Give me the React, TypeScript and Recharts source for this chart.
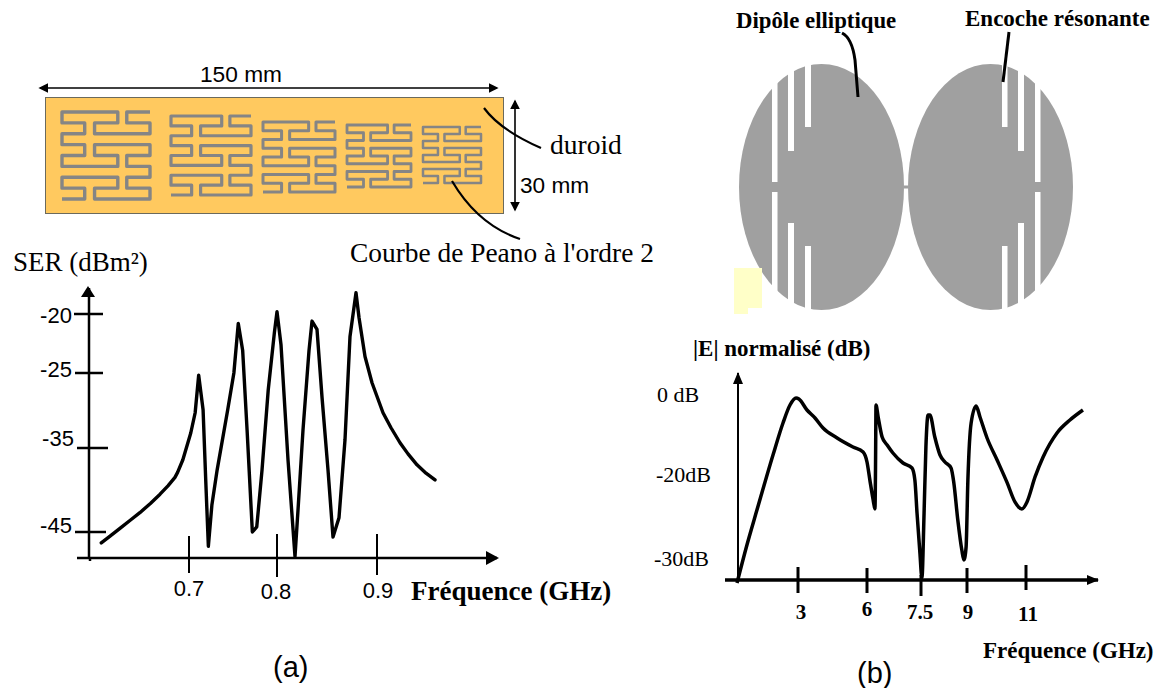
import React from 'react';
import { LineChart, Line, XAxis, YAxis } from 'recharts';

// panel (a): SER against frequency
const serFreq = [0.6, 0.61, 0.622, 0.633, 0.644, 0.656, 0.667, 0.676, 0.684, 0.687, 0.693, 0.702, 0.707, 0.711, 0.716, 0.719, 0.722, 0.726, 0.732, 0.744, 0.751, 0.756, 0.761, 0.766, 0.772, 0.777, 0.783, 0.79, 0.797, 0.8, 0.804, 0.811, 0.818, 0.821, 0.826, 0.832, 0.835, 0.84, 0.845, 0.851, 0.856, 0.862, 0.868, 0.873, 0.879, 0.882, 0.888, 0.895, 0.906, 0.914, 0.923, 0.931, 0.94, 0.949, 0.958];
const serValues = [-46.3, -45.5, -44.5, -43.6, -42.7, -41.6, -40.5, -39.5, -38.5, -37.9, -36.4, -33.0, -30.3, -25.3, -29.9, -38.8, -46.7, -41.8, -37.6, -29.9, -25, -20.8, -23.1, -32.6, -45, -44.4, -37.6, -27.3, -21.6, -19.8, -22.6, -36.4, -47.9, -42.4, -32.6, -23.1, -20.6, -21.3, -28.2, -37.6, -45.6, -43.3, -33.9, -21.9, -18.2, -20.3, -23.6, -26.3, -30.3, -32.3, -34.3, -35.7, -37.0, -38.0, -38.8];
const serFreqTicks = [0.7, 0.8, 0.9];
const serTicks = [-45, -35, -25, -20];

// panel (b): normalised field against frequency
const fieldFreq = [-0.05, 0.45, 0.95, 1.75, 2.25, 2.6, 2.9, 3.04, 3.39, 3.74, 4.09, 4.7, 5.39, 5.83, 6.0, 6.08, 6.17, 6.22, 6.236, 6.242, 6.25, 6.31, 6.42, 6.56, 6.72, 7.0, 7.25, 7.33, 7.39, 7.47, 7.53, 7.6, 7.66, 7.73, 7.79, 7.95, 8.12, 8.28, 8.48, 8.57, 8.7, 8.83, 8.9, 8.97, 9.03, 9.14, 9.31, 9.44, 9.68, 10.02, 10.36, 10.63, 10.86, 11.03, 11.31, 11.58, 12.05, 12.49, 12.93];
const fieldValues = [-32.7, -28.2, -24.1, -15, -7, -2.5, -0.75, -1, -3.75, -5.75, -8.25, -10.75, -13, -14.25, -16.75, -20.6, -22.9, -24, -18.75, -11.25, -2.5, -5.5, -10.5, -12.5, -14.5, -17, -18.25, -20.6, -24.5, -29.2, -32.1, -24.5, -13, -5, -5, -10.5, -15, -16.75, -18.25, -20.9, -25.3, -28.8, -30, -28.5, -20.6, -7, -2.75, -5.5, -10.75, -16.25, -20.9, -23.2, -24, -23.2, -20.2, -15.5, -9.5, -6.25, -3.75];
const fieldFreqTicks = [3, 6, 7.5, 9, 11];
const fieldTicks = [-30, -20, 0];

const serData = serFreq.map((f, i) => ({ f, v: serValues[i] }));
const fieldData = fieldFreq.map((f, i) => ({ f, v: fieldValues[i] }));

const SERIF = '"Liberation Serif", serif';
const SANS = '"Liberation Sans", sans-serif';

// the drawn axes are not evenly spaced, so each scale goes through its tick positions
const knotScale = (knots: number[][]) => {
  const s: any = (v: number) => {
    let i = 0;
    while (i < knots.length - 2 && v > knots[i + 1][0]) i++;
    const [a, pa] = knots[i];
    const [b, pb] = knots[i + 1];
    return pa + ((v - a) * (pb - pa)) / (b - a);
  };
  s.domain = (d?: number[]) => (d ? s : [knots[0][0], knots[knots.length - 1][0]]);
  s.range = (r?: number[]) => (r ? s : [knots[0][1], knots[knots.length - 1][1]]);
  s.copy = () => knotScale(knots);
  s.ticks = () => knots.map((k) => k[0]);
  s.tickFormat = () => (v: number) => String(v);
  return s;
};

const serXScale = knotScale([[0.586, 89], [0.7, 189], [0.8, 277], [1.02, 497]]);
const serYScale = knotScale([[-48.1, 558], [-45, 532], [-35, 448], [-25, 373], [-20, 314], [-17.8, 288]]);
const fieldXScale = knotScale([[0, 738], [3, 798], [6, 867], [7.5, 921], [9, 967], [11, 1026], [13.44, 1098]]);
const fieldYScale = knotScale([[-32.35, 580], [-30, 560], [-20, 475], [0, 395], [5.5, 373]]);

// hand-drawn ticks wander a bit: [line start, line end, label x, label y]
const serYStyle: Record<number, number[]> = { [-20]: [74, 103, 56, 323], [-25]: [75, 103, 56, 377], [-35]: [77, 108, 58, 446], [-45]: [75, 106, 56, 533] };
const serXStyle: Record<number, number[]> = { 0.7: [536, 573, 189, 596], 0.8: [534, 577, 276, 599], 0.9: [534, 575, 378, 598] };
const fieldXStyle: Record<number, number[]> = { 3: [567, 593, 801, 619], 6: [568, 593, 867, 616], 7.5: [575, 596, 920, 619], 9: [568, 593, 968, 619], 11: [565, 590, 1028, 621] };
const fieldYStyle: Record<number, number[]> = { [-30]: [654, 566], [-20]: [656, 482], [0]: [657, 402] };
const fieldYLabel: Record<number, string> = { [-30]: '-30dB', [-20]: '-20dB', [0]: '0 dB' };

const SerYTick = ({ y, payload }: any) => {
  const [a, b, tx, ty] = serYStyle[payload.value];
  return (
    <g>
      <line x1={a} x2={b} y1={y} y2={y} stroke="#000" strokeWidth={2.5} />
      <text x={tx} y={ty} textAnchor="middle" fontFamily={SANS} fontSize={22}>{payload.value}</text>
    </g>
  );
};

const SerXTick = ({ x, payload }: any) => {
  const [a, b, tx, ty] = serXStyle[payload.value];
  return (
    <g>
      <line x1={x} x2={x} y1={a} y2={b} stroke="#000" strokeWidth={2} />
      <text x={tx} y={ty} textAnchor="middle" fontFamily={SANS} fontSize={22}>{payload.value}</text>
    </g>
  );
};

const FieldXTick = ({ x, payload }: any) => {
  const [a, b, tx, ty] = fieldXStyle[payload.value];
  return (
    <g>
      <line x1={x} x2={x} y1={a} y2={b} stroke="#000" strokeWidth={3} />
      <text x={tx} y={ty} textAnchor="middle" fontFamily={SERIF} fontWeight="bold" fontSize={21}>{payload.value}</text>
    </g>
  );
};

const FieldYTick = ({ payload }: any) => {
  const [tx, ty] = fieldYStyle[payload.value];
  return <text x={tx} y={ty} fontFamily={SERIF} fontSize={22}>{fieldYLabel[payload.value]}</text>;
};

// one order-2 Peano curve on a 5x8 grid
const peanoCols = [0, 0.258, 0.37, 0.634, 0.736, 1];
const peanoPath = [
  [5, 0], [4, 0], [4, 1], [5, 1], [5, 2], [2, 2], [2, 1], [3, 1], [3, 0], [0, 0], [0, 1], [1, 1], [1, 2], [0, 2], [0, 3], [1, 3], [1, 4], [0, 4], [0, 5], [3, 5], [3, 4], [2, 4], [2, 3], [5, 3], [5, 4], [4, 4], [4, 5], [5, 5], [5, 6], [4, 6], [4, 7], [5, 7], [5, 8], [2, 8], [2, 7], [3, 7], [3, 6], [0, 6], [0, 7], [1, 7], [1, 8], [0, 8],
];
const peanoBoxes = [
  [62, 112, 88, 87, 3.4],
  [171, 116, 80, 79, 3.2],
  [263, 122, 72, 70, 3],
  [347, 125, 64, 62, 2.8],
  [423, 127, 58, 56, 2.5],
];

const Peano = ({ box }: { box: number[] }) => {
  const [x, y, w, h, sw] = box;
  const pts = peanoPath.map(([c, r]) => `${x + peanoCols[c] * w},${y + (r / 8) * h}`).join(' ');
  return <polyline points={pts} fill="none" stroke="#858585" strokeWidth={sw} strokeLinejoin="round" />;
};

const ellipses = [
  { cx: 821.5, slots: [[772, 5.5, 182, 192], [788, 6, 151, 223], [805, 6, 127, 246]] },
  { cx: 990.5, slots: [[1002, 5.5, 127, 246], [1018, 6, 151, 223], [1035, 5.5, 182, 192]] },
];

const Diagrams = () => (
  <svg width={1154} height={688} style={{ position: 'absolute', left: 0, top: 0 }}>
    <defs>
      <marker id="head" markerWidth="6" markerHeight="6" refX="5" refY="3" orient="auto-start-reverse">
        <path d="M0,0 L6,3 L0,6 Z" fill="#000" />
      </marker>
    </defs>
    {/* substrate */}
    <rect x={45.5} y={97.5} width={458} height={116} fill="#FFC95F" stroke="#6b6a5c" strokeWidth={1} />
    {peanoBoxes.map((b, i) => <Peano key={i} box={b} />)}
    <line x1={40} x2={497} y1={88} y2={88} stroke="#000" strokeWidth={1.6} markerStart="url(#head)" markerEnd="url(#head)" />
    <line x1={515} x2={515} y1={101} y2={210} stroke="#000" strokeWidth={1.6} markerStart="url(#head)" markerEnd="url(#head)" />
    <path d="M484,108 Q500,130 541,148" fill="none" stroke="#000" strokeWidth={2.2} />
    <path d="M452,181 Q478,225 520,239" fill="none" stroke="#000" strokeWidth={2.2} />
    <text x={200} y={82} fontFamily={SANS} fontSize={22.7}>150 mm</text>
    <text x={520} y={193} fontFamily={SANS} fontSize={22.6}>30 mm</text>
    <text x={550} y={154} fontFamily={SERIF} fontSize={27.5}>duroid</text>
    <text x={350} y={262} fontFamily={SERIF} fontSize={27.4}>Courbe de Peano à l'ordre 2</text>
    <text x={13} y={271} fontFamily={SERIF} fontSize={27}>SER (dBm²)</text>

    {/* dipole */}
    {ellipses.map((e) => (
      <g key={e.cx}>
        <ellipse cx={e.cx} cy={187} rx={82.5} ry={123} fill="#A0A0A0" />
        {e.slots.map(([x, w, y1, y2]) => (
          <g key={x}>
            <rect x={x} y={60} width={w} height={y1 - 60} fill="#fff" />
            <rect x={x} y={y2} width={w} height={315 - y2} fill="#fff" />
          </g>
        ))}
      </g>
    ))}
    <rect x={904} y={185.5} width={4} height={3} fill="#A0A0A0" />
    <path d="M734,268 H762 V308 H748 V314 H734 Z" fill="#FFFFC8" />
    <path d="M842,33 Q852,38 855,60 L858,97" fill="none" stroke="#000" strokeWidth={3} />
    <line x1={1009} y1={32} x2={1003} y2={82} stroke="#000" strokeWidth={3} />
    <text x={736} y={28} fontFamily={SERIF} fontWeight="bold" fontSize={22.8}>Dipôle elliptique</text>
    <text x={965} y={26} fontFamily={SERIF} fontWeight="bold" fontSize={23}>Encoche résonante</text>
    <text x={693} y={356} fontFamily={SERIF} fontWeight="bold" fontSize={23}>|E| normalisé (dB)</text>

    {/* axis ends the chart area does not reach */}
    <line x1={77} x2={90} y1={558} y2={558} stroke="#000" strokeWidth={2.5} />
    <line x1={90} x2={90} y1={558} y2={561} stroke="#000" strokeWidth={2.5} />
    <path d="M81,297 L88,286 L95,297 Z" fill="#000" />
    <path d="M486,551 L499,558 L486,565 Z" fill="#000" />
    <line x1={725} x2={738} y1={580} y2={580} stroke="#000" strokeWidth={3.5} />
    <path d="M733,384 L738,372 L743,384 Z" fill="#000" />
    <path d="M1087,575 L1099,580 L1087,585 Z" fill="#000" />

    <text x={411} y={600} fontFamily={SERIF} fontWeight="bold" fontSize={27}>Fréquence (GHz)</text>
    <text x={983} y={658} fontFamily={SERIF} fontWeight="bold" fontSize={23}>Fréquence (GHz)</text>
    <text x={273} y={677} fontFamily={SANS} fontSize={29}>(a)</text>
    <text x={857} y={683} fontFamily={SANS} fontSize={29}>(b)</text>
  </svg>
);

const App: React.FC = () => (
  <div style={{ position: 'absolute', left: 0, top: 0, width: 1154, height: 688, background: '#fff', overflow: 'hidden' }}>
    <Diagrams />
    <div style={{ position: 'absolute', left: 0, top: 0 }}>
      <LineChart width={1154} height={688} data={serData} margin={{ top: 288, right: 657, bottom: 129, left: 88 }}>
        <XAxis dataKey="f" type="number" domain={[0.586, 1.02]} scale={serXScale} ticks={serFreqTicks} interval={0} height={1} stroke="#000" strokeWidth={2.5} tickLine={false} tick={(p: any) => <SerXTick {...p} />} />
        <YAxis type="number" domain={[-48.1, -17.8]} scale={serYScale} ticks={serTicks} interval={0} width={1} stroke="#000" strokeWidth={2.5} tickLine={false} tick={(p: any) => <SerYTick {...p} />} />
        <Line type="linear" dataKey="v" stroke="#000" strokeWidth={3.4} strokeLinejoin="round" strokeLinecap="round" dot={false} isAnimationActive={false} />
      </LineChart>
    </div>
    <div style={{ position: 'absolute', left: 0, top: 0 }}>
      <LineChart width={1154} height={688} data={fieldData} margin={{ top: 373, right: 56, bottom: 107, left: 737 }}>
        <XAxis dataKey="f" type="number" domain={[0, 13.44]} scale={fieldXScale} ticks={fieldFreqTicks} interval={0} height={1} stroke="#000" strokeWidth={3.5} tickLine={false} tick={(p: any) => <FieldXTick {...p} />} />
        <YAxis type="number" domain={[-32.35, 5.5]} scale={fieldYScale} ticks={fieldTicks} interval={0} width={1} stroke="#000" strokeWidth={2} tickLine={false} tick={(p: any) => <FieldYTick {...p} />} />
        <Line type="monotone" dataKey="v" stroke="#000" strokeWidth={3.5} strokeLinejoin="round" dot={false} isAnimationActive={false} />
      </LineChart>
    </div>
  </div>
);

export default App;
